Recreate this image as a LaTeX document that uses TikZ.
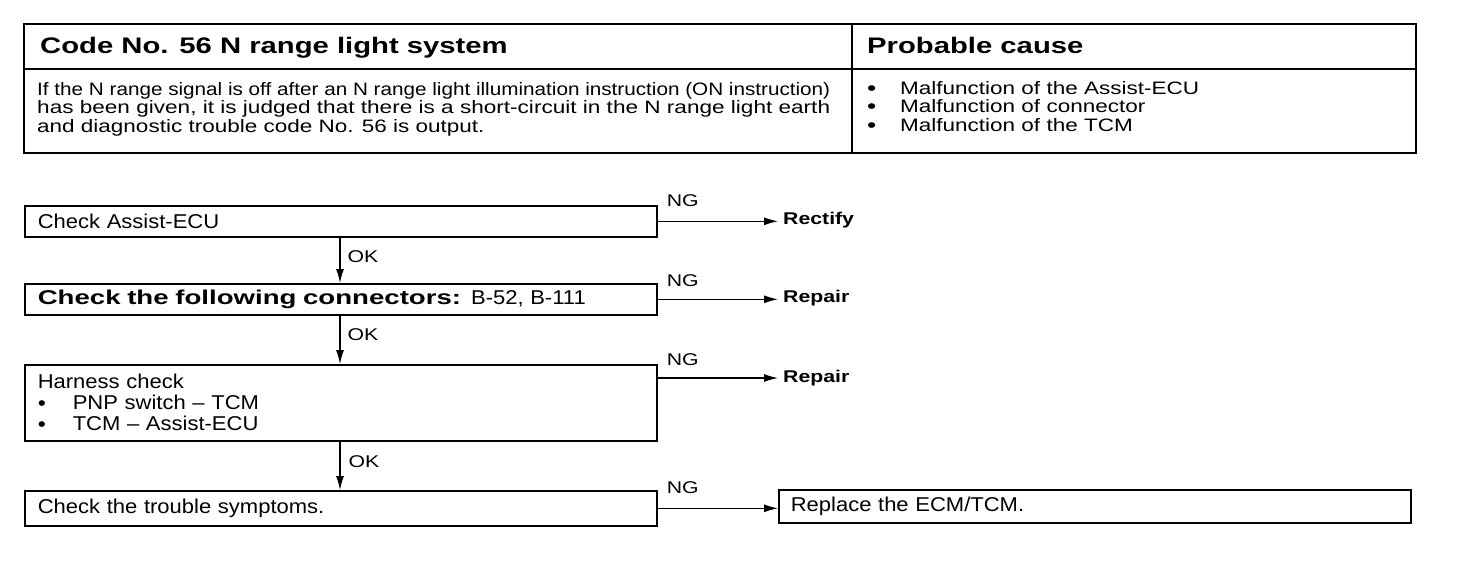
\documentclass[tikz,border=0pt]{standalone}
\usepackage{fontspec}
\usepackage{graphicx}
\setmainfont{Liberation Sans}
\newfontfamily\fA[FakeStretch=1.1]{Liberation Sans}
\newfontfamily\fB[FakeStretch=1.25]{Liberation Sans}
\newfontfamily\fH[FakeStretch=1.3]{Liberation Sans}
\newfontfamily\fC[FakeStretch=1.38]{Liberation Sans}
\newcommand{\blt}{\smash{\raisebox{-1pt}{\fontsize{21}{18}\selectfont•}}}
\usetikzlibrary{arrows.meta,calc}
\begin{document}
\begin{tikzpicture}[x=1pt,y=-1pt,
  frame/.style={line width=1.8pt},
  box/.style={draw, line width=1.6pt, anchor=north west, inner xsep=13pt, inner ysep=0pt,
    align=left, text width=606pt, font=\fA\fontsize{20}{21}\selectfont},
  conn/.style={line width=1.2pt, -{Latex[length=14pt,width=8pt]}},
  lbl/.style={inner sep=0pt, font=\fB\fontsize{17}{17}\selectfont},
  res/.style={anchor=west, inner xsep=5pt, inner ysep=0pt, font=\fB\bfseries\fontsize{17}{17}\selectfont},
  hdr/.style={anchor=base west, inner sep=0pt, font=\fH\bfseries\fontsize{22.5}{22.5}\selectfont},
  body/.style={inner sep=0pt, align=left, font=\fB\fontsize{18}{18.2}\selectfont}
]
\useasboundingbox (0,0) rectangle (1472,582);
\fill[white] (0,0) rectangle (1472,582);

% table
\draw[frame] (24,24) rectangle (1416,153);
\draw[frame] (24,69) -- (1416,69);
\draw[line width=1.5pt] (852,24) -- (852,153);
\node[hdr] (h1) at (40,53) {Code No. 56 N range light system};
\node[hdr] (h2) at (867,53) {Probable cause};
\node[body, anchor=base west] (desc) at (37,132) {%
\resizebox{793pt}{\height}{If the N range signal is off after an N range light illumination instruction (ON instruction)}\\
\resizebox{793pt}{\height}{has been given, it is judged that there is a short-circuit in the N range light earth}\\
and diagnostic trouble code No. 56 is output.};
\node[body, anchor=base west] (cause) at (867,131) {%
\makebox[33pt][l]{\blt}Malfunction of the Assist-ECU\\
\makebox[33pt][l]{\blt}Malfunction of connector\\
\makebox[33pt][l]{\blt}Malfunction of the TCM};

% flowchart
\node[box, minimum height=31pt] (b1) at (24,205) {Check Assist-ECU};
\node[box, minimum height=31pt] (b2) at (24,283) {{\fC\bfseries Check the following connectors:} B-52, B-111};
\node[box, minimum height=76pt] (b3) at (24,364) {Harness check\\
\makebox[35pt][l]{\blt}PNP switch – TCM\\
\makebox[35pt][l]{\blt}TCM – Assist-ECU};
\node[box, minimum height=35pt] (b4) at (24,490) {Check the trouble symptoms.};
\node[box, minimum height=33pt, inner xsep=12pt, text width=608pt] (b5) at (778,489) {Replace the ECM/TCM.};

\node[res] (r1) at (778,220.5) {Rectify};
\node[res] (r2) at (778,298.5) {Repair};
\node[res] (r3) at (778,378) {Repair};

\coordinate (vx) at (340,0);

\draw[conn] (b1.east) -- (b1.east -| r1.west);
\draw[conn] (b2.east) -- (b2.east -| r2.west);
\draw[conn] (b3.east |- r3.west) -- (r3.west);
\draw[conn] (b4.east) -- (b4.east -| b5.west);

\node[lbl, anchor=base west] (ng1) at ($(b1.east)+(9,-15)$) {NG};
\node[lbl, anchor=base west] (ng2) at ($(b2.east)+(9,-13)$) {NG};
\node[lbl, anchor=base west] (ng3) at ($(b3.east |- r3.west)+(9,-13)$) {NG};
\node[lbl, anchor=base west] (ng4) at ($(b4.east)+(9,-15)$) {NG};

\draw[conn] (b1.south -| vx) -- node[lbl, pos=0.42, anchor=west, xshift=7pt] (ok1) {OK} (b2.north -| vx);
\draw[conn] (b2.south -| vx) -- node[lbl, pos=0.4, anchor=west, xshift=7pt] (ok2) {OK} (b3.north -| vx);
\draw[conn] (b3.south -| vx) -- node[lbl, pos=0.42, anchor=west, xshift=8pt] (ok3) {OK} (b4.north -| vx);
\end{tikzpicture}
\end{document}
